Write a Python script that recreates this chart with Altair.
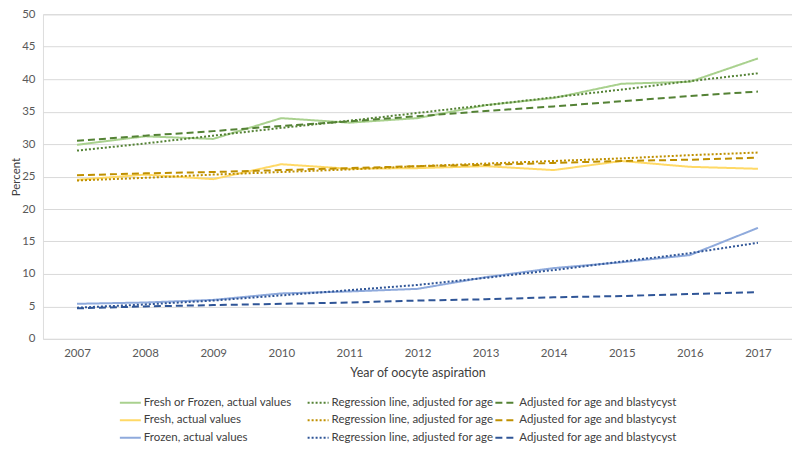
import altair as alt
import pandas as pd

years = ["2007", "2008", "2009", "2010", "2011", "2012", "2013", "2014", "2015", "2016", "2017"]

both_actual = [29.9, 31.2, 30.8, 34.0, 33.3, 34.0, 36.0, 37.1, 39.3, 39.6, 43.2]
both_regr = [29.0, 30.1, 31.3, 32.5, 33.6, 34.8, 36.0, 37.2, 38.4, 39.7, 40.9]
both_adj = [30.5, 31.3, 32.0, 32.8, 33.5, 34.3, 35.1, 35.8, 36.6, 37.4, 38.1]

fresh_actual = [24.5, 25.3, 24.6, 26.9, 26.2, 26.3, 26.6, 26.0, 27.4, 26.5, 26.2]
fresh_regr = [24.4, 24.8, 25.3, 25.7, 26.1, 26.6, 27.0, 27.4, 27.8, 28.3, 28.7]
fresh_adj = [25.2, 25.5, 25.7, 26.0, 26.3, 26.6, 26.8, 27.1, 27.4, 27.6, 27.9]

frozen_actual = [5.4, 5.6, 6.0, 7.0, 7.3, 7.7, 9.5, 10.9, 11.8, 12.9, 17.1]
frozen_regr = [4.8, 5.3, 5.9, 6.7, 7.5, 8.3, 9.4, 10.6, 11.9, 13.2, 14.8]
frozen_adj = [4.7, 5.0, 5.2, 5.4, 5.6, 5.9, 6.1, 6.4, 6.6, 6.9, 7.2]

# legend is filled column by column: first column = actual values
series_keys = ["g1", "y1", "b1", "g2", "y2", "b2", "g3", "y3", "b3"]
series_labels = [
    "Fresh or Frozen, actual  values", "Fresh, actual values", "Frozen, actual values",
    "Regression line, adjusted for age", "Regression line, adjusted for age", "Regression line, adjusted for age",
    "Adjusted for age and blastycyst", "Adjusted for age and blastycyst", "Adjusted for age and blastycyst",
]
series_values = [both_actual, fresh_actual, frozen_actual,
                 both_regr, fresh_regr, frozen_regr,
                 both_adj, fresh_adj, frozen_adj]
series_colors = ["#a9d18e", "#ffd966", "#8faadc",
                 "#548235", "#bf9000", "#2f5597",
                 "#548235", "#bf9000", "#2f5597"]
series_dashes = [[1, 0], [1, 0], [1, 0],
                 [2, 2], [2, 2], [2, 2],
                 [7, 4], [7, 4], [7, 4]]

rows = []
for key, vals in zip(series_keys, series_values):
    for yr, v in zip(years, vals):
        rows.append({"year": yr, "series": key, "value": v})
df = pd.DataFrame(rows)

label_expr = "{" + ",".join(f"'{k}':'{l}'" for k, l in zip(series_keys, series_labels)) + "}[datum.value]"

FONT = "Lato, Carlito, Calibri, sans-serif"

legend = alt.Legend(
    title=None,
    orient="none",
    legendX=76,
    legendY=377.5,
    columns=3,
    gridAlign="all",
    symbolType="stroke",
    symbolSize=441,
    symbolStrokeWidth=2,
    labelExpr=label_expr,
    labelFont=FONT,
    labelFontSize=11.5,
    labelColor="#404040",
    rowPadding=0.5,
    columnPadding=-7,
    labelOffset=2,
    labelLimit=400,
)

chart = alt.Chart(df).mark_line(strokeWidth=2).encode(
    x=alt.X("year:N", sort=years,
            axis=alt.Axis(title="Year of oocyte aspiration", labelAngle=0, ticks=False, domain=False,
                          labelPadding=9, titlePadding=7, labelFontSize=11.5, titleFontSize=12.5,
                          titleFontWeight="normal",
                          labelColor="#595959", titleColor="#404040", labelFont=FONT, titleFont=FONT,
                          grid=False),
            scale=alt.Scale(paddingInner=0, paddingOuter=0.5)),
    y=alt.Y("value:Q", scale=alt.Scale(domain=[0, 50], nice=False),
            axis=alt.Axis(title="Percent", values=list(range(0, 51, 5)), ticks=False, domain=False,
                          labelPadding=8, titlePadding=0, labelFontSize=11.5, titleFontSize=11.5,
                          titleFontWeight="normal",
                          labelColor="#595959", titleColor="#404040", labelFont=FONT, titleFont=FONT,
                          gridColor="#d9d9d9", gridWidth=1)),
    color=alt.Color("series:N", scale=alt.Scale(domain=series_keys, range=series_colors), legend=legend,
                    sort=series_keys),
    strokeDash=alt.StrokeDash("series:N", scale=alt.Scale(domain=series_keys, range=series_dashes),
                              legend=legend, sort=series_keys),
    detail="series:N",
).properties(
    width=750,
    height=325,
    autosize=alt.AutoSizeParams(type="none"),
    padding={"left": 35, "top": 6, "right": 0, "bottom": 111},
).configure_view(stroke=None).configure(background="white")

chart.save("out.html", embed_options={"renderer": "svg", "actions": False})
